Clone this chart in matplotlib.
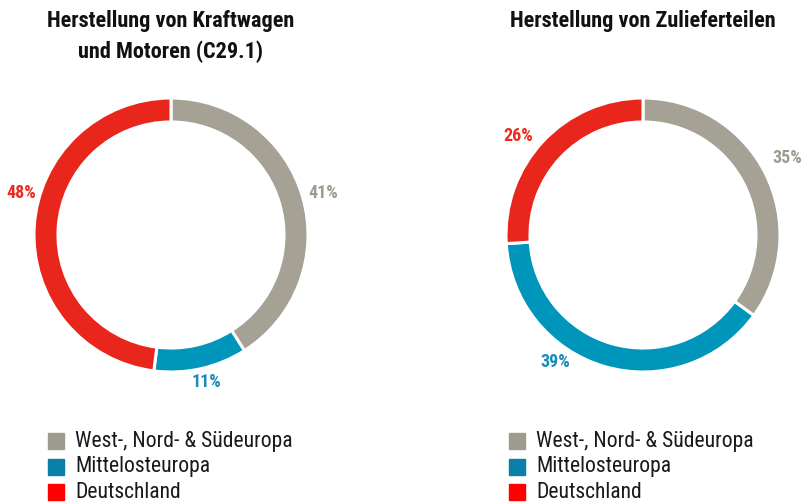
import matplotlib.pyplot as plt
from matplotlib.patches import Rectangle

# data
regions = ['West-, Nord- & Südeuropa', 'Mittelosteuropa', 'Deutschland']
titles = ['Herstellung von Kraftwagen\nund Motoren (C29.1)', 'Herstellung von Zulieferteilen']
shares_kfz = [41, 11, 48]
shares_zul = [35, 39, 26]

ring_colors = ['#a5a195', '#0096bc', '#e8261c']
legend_colors = ['#9e9a8e', '#0a7fa8', '#ff0000']
label_colors = ['#9e9a8e', '#1a8ab8', '#ee2a1e']

plt.rcParams['font.family'] = ['Roboto Condensed', 'DejaVu Sans']
plt.rcParams['font.stretch'] = 'condensed'

W, H = 803, 503
fig = plt.figure(figsize=(W / 100, H / 100), dpi=100)

R = 137
centers = [(171, 235), (643, 235)]
# label positions (in units of radius) for each donut
label_pos = [
    [(1.11, 0.31), (0.26, -1.07), (-1.09, 0.31)],
    [(1.05, 0.56), (-0.64, -0.93), (-0.91, 0.72)],
]

for i, shares in enumerate([shares_kfz, shares_zul]):
    cx, cy = centers[i]
    ax = fig.add_axes([(cx - R) / W, (H - cy - R) / H, 2 * R / W, 2 * R / H])
    ax.pie(shares, colors=ring_colors, startangle=90, counterclock=False,
           radius=1, wedgeprops=dict(width=0.175, edgecolor='white', linewidth=2.2))
    ax.set_xlim(-1, 1)
    ax.set_ylim(-1, 1)
    ax.set_aspect('equal')
    ax.axis('off')
    for j, v in enumerate(shares):
        x, y = label_pos[i][j]
        ax.text(x, y, f'{v}%', ha='center', va='center', fontsize=13,
                fontweight='bold', color=label_colors[j], clip_on=False)

    # title
    fig.text(cx / W, 1 - 10 / H, titles[i], ha='center', va='top', fontsize=16,
             fontweight='bold', color='#111111', linespacing=1.5)

    # legend
    lx = 48 if i == 0 else 509
    for j, name in enumerate(regions):
        ry = 441 + j * 25.5
        fig.add_artist(Rectangle((lx / W, (H - ry - 8) / H), 16 / W, 16 / H,
                                 transform=fig.transFigure, color=legend_colors[j]))
        fig.text((lx + 27) / W, (H - ry) / H, name, ha='left', va='center',
                 fontsize=15.6, color='#1a1a1a')

fig.savefig('out.png', dpi=100)
